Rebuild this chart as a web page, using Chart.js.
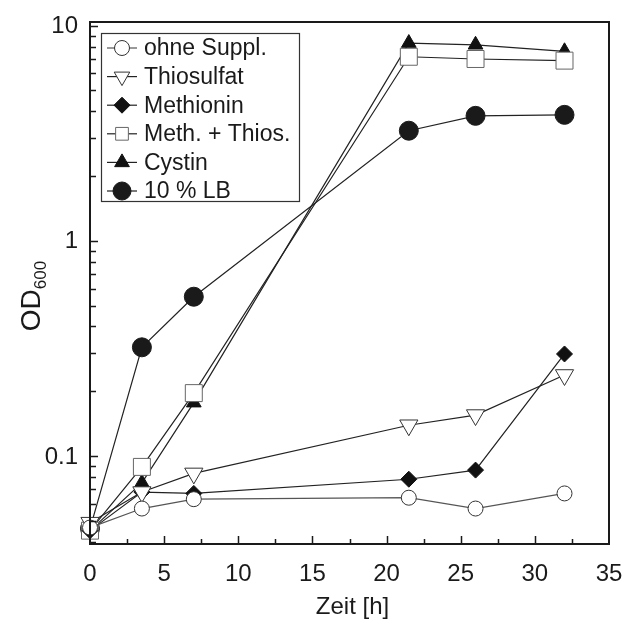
<!DOCTYPE html>
<html>
<head>
<meta charset="utf-8">
<script src="https://cdn.jsdelivr.net/npm/chart.js@4.4.0/dist/chart.umd.min.js"></script>
<style>
  html, body { margin: 0; padding: 0; background: #fff; }
  canvas { display: block; }
</style>
</head>
<body>
<canvas id="growth" width="625" height="619"></canvas>
<script>
// Zeitpunkte der Probennahme [h]
const zeit = [0, 3.5, 7, 21.5, 26, 32];

// OD600-Werte je Ansatz
const ohneSuppl = [0.0465, 0.057, 0.063, 0.064, 0.057, 0.067];
const thiosulfat = [0.049, 0.068, 0.083, 0.139, 0.155, 0.238];
const methionin = [0.045, 0.068, 0.067, 0.078, 0.086, 0.298];
const methThios = [0.045, 0.089, 0.196, 7.17, 7.0, 6.88];
const cystin = [0.045, 0.075, 0.177, 8.3, 8.15, 7.6];
const lb10 = [0.046, 0.32, 0.55, 3.25, 3.81, 3.85];

// Achsenbeschriftungen
const xTickLabels = [0, 5, 10, 15, 20, 25, 30, 35];
const yTickLabels = [0.1, 1, 10];

const FONT = '"Liberation Sans", Arial, Helvetica, sans-serif';

function pts(values) {
  return values.map((v, i) => ({ x: zeit[i], y: v }));
}

const series = [
  { label: 'ohne Suppl.', data: ohneSuppl, pointStyle: 'circle', rotation: 0, radius: 7.5,
    fill: '#ffffff', edge: '#333333', line: '#555555' },
  { label: 'Thiosulfat', data: thiosulfat, pointStyle: 'triangle', rotation: 180, radius: 10.5,
    fill: '#ffffff', edge: '#333333', line: '#222222' },
  { label: 'Methionin', data: methionin, pointStyle: 'rectRot', rotation: 0, radius: 8,
    fill: '#111111', edge: '#111111', line: '#222222' },
  { label: 'Meth. + Thios.', data: methThios, pointStyle: 'rect', rotation: 0, radius: 12,
    fill: '#ffffff', edge: '#666666', line: '#222222' },
  { label: 'Cystin', data: cystin, pointStyle: 'triangle', rotation: 0, radius: 8.5,
    fill: '#111111', edge: '#111111', line: '#222222' },
  { label: '10 % LB', data: lb10, pointStyle: 'circle', rotation: 0, radius: 9.5,
    fill: '#1a1a1a', edge: '#1a1a1a', line: '#222222' }
];

// Rahmen, Ticks nach innen, Beschriftungen und Legende
const frame = {
  id: 'frame',
  afterDatasetsDraw(chart) {
    const { ctx, chartArea: a, scales: { x, y } } = chart;
    ctx.save();

    // Achsenrahmen
    ctx.strokeStyle = '#1a1a1a';
    ctx.lineWidth = 2;
    ctx.strokeRect(a.left, a.top, a.right - a.left, a.bottom - a.top);

    ctx.lineWidth = 1.5;
    ctx.beginPath();
    // x-Ticks alle 2,5 h, Hauptticks bei 5er-Schritten
    for (let t = 2.5; t < 35; t += 2.5) {
      const px = Math.round(x.getPixelForValue(t)) + 0.5;
      const len = t % 5 === 0 ? 8 : 5;
      ctx.moveTo(px, a.bottom);
      ctx.lineTo(px, a.bottom - len);
    }
    // logarithmische y-Ticks
    for (let d = 0.01; d <= 10; d *= 10) {
      for (let m = 1; m <= 9; m++) {
        const v = d * m;
        if (v < y.min || v > y.max) continue;
        const py = Math.round(y.getPixelForValue(v)) + 0.5;
        const len = m === 1 ? 8 : 6;
        ctx.moveTo(a.left, py);
        ctx.lineTo(a.left + len, py);
      }
    }
    ctx.stroke();

    // Tickbeschriftungen
    ctx.fillStyle = '#1a1a1a';
    ctx.font = '24px ' + FONT;
    ctx.textAlign = 'center';
    ctx.textBaseline = 'top';
    xTickLabels.forEach(t => {
      ctx.fillText(String(t), x.getPixelForValue(t), a.bottom + 18);
    });
    ctx.textAlign = 'right';
    ctx.textBaseline = 'middle';
    yTickLabels.forEach(v => {
      ctx.fillText(String(v), a.left - 12, y.getPixelForValue(v) + 1);
    });

    // Achsentitel
    ctx.textAlign = 'center';
    ctx.textBaseline = 'alphabetic';
    ctx.fillText('Zeit [h]', (a.left + a.right) / 2 + 3, 614);

    ctx.save();
    ctx.translate(40, 296);
    ctx.rotate(-Math.PI / 2);
    ctx.textAlign = 'left';
    ctx.font = '28px ' + FONT;
    const odW = ctx.measureText('OD').width;
    const subFont = '17px ' + FONT;
    ctx.font = subFont;
    const subW = ctx.measureText('600').width;
    const start = -(odW + subW) / 2;
    ctx.font = '28px ' + FONT;
    ctx.fillText('OD', start, 0);
    ctx.font = subFont;
    ctx.fillText('600', start + odW, 6);
    ctx.restore();

    // Legende
    const box = { left: 101, top: 33, right: 299, bottom: 201 };
    ctx.fillStyle = '#ffffff';
    ctx.fillRect(box.left, box.top, box.right - box.left, box.bottom - box.top);
    ctx.strokeStyle = '#333333';
    ctx.lineWidth = 1.2;
    ctx.strokeRect(box.left + 0.5, box.top + 0.5, box.right - box.left, box.bottom - box.top);

    ctx.font = '23px ' + FONT;
    ctx.textAlign = 'left';
    ctx.textBaseline = 'middle';
    series.forEach((s, i) => {
      const ry = 48 + i * 28.6;
      ctx.strokeStyle = s.line;
      ctx.lineWidth = 1.2;
      ctx.beginPath();
      ctx.moveTo(107, ry);
      ctx.lineTo(137, ry);
      ctx.stroke();
      ctx.fillStyle = s.fill;
      ctx.strokeStyle = s.edge;
      ctx.lineWidth = 1;
      Chart.helpers.drawPoint(ctx, {
        pointStyle: s.pointStyle,
        rotation: s.rotation,
        radius: Math.min(s.radius, 9),
        borderWidth: 1
      }, 122, ry);
      ctx.fillStyle = '#1a1a1a';
      ctx.fillText(s.label, 144, ry + 1);
    });

    ctx.restore();
  }
};

new Chart(document.getElementById('growth'), {
  type: 'line',
  data: {
    datasets: series.map(s => ({
      label: s.label,
      data: pts(s.data),
      borderColor: s.line,
      borderWidth: 1.2,
      pointStyle: s.pointStyle,
      pointRotation: s.rotation,
      pointRadius: s.radius,
      pointBackgroundColor: s.fill,
      pointBorderColor: s.edge,
      pointBorderWidth: 1,
      tension: 0,
      clip: false
    }))
  },
  options: {
    responsive: false,
    animation: false,
    layout: { padding: { left: 90, right: 16, top: 22, bottom: 75 } },
    scales: {
      x: { type: 'linear', min: 0, max: 35, display: false },
      y: { type: 'logarithmic', min: 0.039, max: 10.4, display: false }
    },
    plugins: {
      legend: { display: false },
      tooltip: { enabled: false }
    }
  },
  plugins: [frame]
});
</script>
</body>
</html>
